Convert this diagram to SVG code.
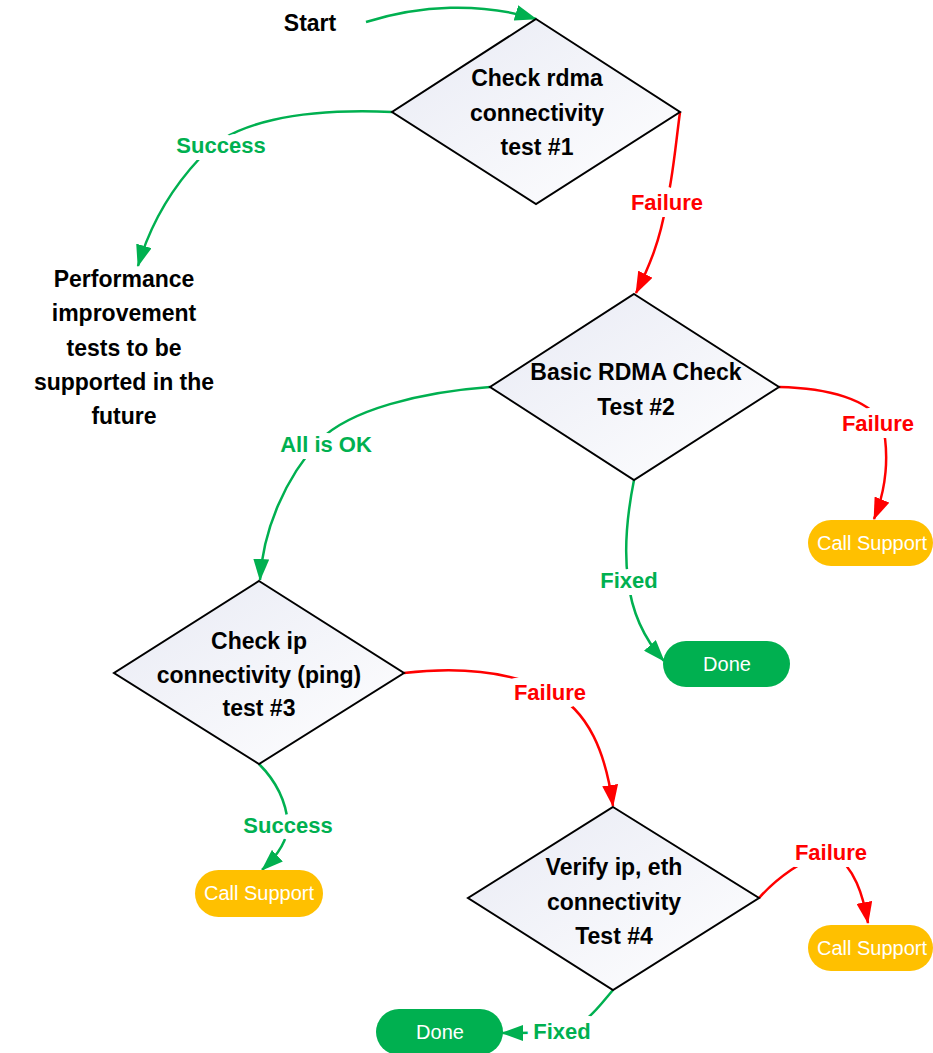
<svg xmlns="http://www.w3.org/2000/svg" width="933" height="1053" viewBox="0 0 933 1053">
<style>
.dia{stroke:#000;stroke-width:2;fill:url(#dg)}
.nt{font-family:"Liberation Sans",Arial,sans-serif;font-weight:bold;font-size:23px;fill:#000;text-anchor:middle}
.lbl{font-family:"Liberation Sans",Arial,sans-serif;font-weight:bold;font-size:22px;text-anchor:middle;stroke:#fff;stroke-width:14;paint-order:stroke;stroke-linejoin:round}
.g{fill:#00B050}
.r{fill:#FF0000}
.cg{fill:none;stroke:#00B050;stroke-width:2.5}
.cr{fill:none;stroke:#FF0000;stroke-width:2.5}
.pt{font-family:"Liberation Sans",Arial,sans-serif;font-size:20px;fill:#fff;text-anchor:middle}
</style>
<defs>
<linearGradient id="dg" x1="0" y1="0" x2="1" y2="1">
<stop offset="0" stop-color="#E8EAF4"/>
<stop offset="1" stop-color="#FFFFFF"/>
</linearGradient>
<marker id="ag" viewBox="0 0 22 16" refX="21" refY="8" markerWidth="22" markerHeight="16" markerUnits="userSpaceOnUse" orient="auto">
<path d="M0,0 L22,8 L0,16 z" fill="#00B050"/>
</marker>
<marker id="ar" viewBox="0 0 22 16" refX="21" refY="8" markerWidth="22" markerHeight="16" markerUnits="userSpaceOnUse" orient="auto">
<path d="M0,0 L22,8 L0,16 z" fill="#FF0000"/>
</marker>
</defs>

<g id="connectors">
<path class="cg" d="M366,22 C420,5 480,2 536,19" marker-end="url(#ag)"/>
<path class="cg" d="M392,112 C300,108 230,122 200,158 C170,190 150,225 138,266" marker-end="url(#ag)"/>
<path class="cr" d="M680,112 C675,150 672,185 666,205 C660,240 650,265 636,293" marker-end="url(#ar)"/>
<path class="cg" d="M490,387 C420,392 350,410 320,440 C285,478 263,530 260,580" marker-end="url(#ag)"/>
<path class="cr" d="M779,387 C830,388 868,400 882,422 C890,455 886,490 874,519" marker-end="url(#ar)"/>
<path class="cg" d="M634,480 C627,515 624,550 628,580 C632,615 645,640 664,661" marker-end="url(#ag)"/>
<path class="cr" d="M404,673 C455,667 505,670 548,690 C590,710 606,755 613,806" marker-end="url(#ar)"/>
<path class="cg" d="M259,764 C275,780 286,800 288,824 C288,842 276,857 262,870" marker-end="url(#ag)"/>
<path class="cr" d="M759,898 C775,880 805,856 832,852 C855,868 863,895 868,923" marker-end="url(#ar)"/>
<path class="cg" d="M613,990 C600,1005 585,1028 560,1031 C540,1033 520,1033 502,1033" marker-end="url(#ag)"/>
</g>

<g id="labels">
<text class="lbl g" x="221" y="153">Success</text>
<text class="lbl r" x="667" y="210">Failure</text>
<text class="lbl g" x="326" y="452">All is OK</text>
<text class="lbl r" x="878" y="431">Failure</text>
<text class="lbl g" x="629" y="588">Fixed</text>
<text class="lbl r" x="550" y="700">Failure</text>
<text class="lbl g" x="288" y="833">Success</text>
<text class="lbl r" x="831" y="860">Failure</text>
<text class="lbl g" x="562" y="1039">Fixed</text>
</g>

<g id="start">
<text class="nt" x="310" y="31">Start</text>
</g>

<g id="test1">
<polygon class="dia" points="536,19 680,112 536,204 392,112"/>
<text class="nt" x="537" y="86">Check rdma</text>
<text class="nt" x="537" y="121">connectivity</text>
<text class="nt" x="537" y="155">test #1</text>
</g>

<g id="perf">
<text class="nt" x="124" y="287">Performance</text>
<text class="nt" x="124" y="321">improvement</text>
<text class="nt" x="124" y="356">tests to be</text>
<text class="nt" x="124" y="390">supported in the</text>
<text class="nt" x="124" y="424">future</text>
</g>

<g id="test2">
<polygon class="dia" points="634,294 779,387 634,480 490,387"/>
<text class="nt" x="636" y="380">Basic RDMA Check</text>
<text class="nt" x="636" y="415">Test #2</text>
</g>

<g id="support1">
<rect x="808" y="520" width="125" height="46" rx="23" fill="#FFC000"/>
<text class="pt" x="872" y="550">Call Support</text>
</g>

<g id="done1">
<rect x="663" y="641" width="127" height="46" rx="23" fill="#00B050"/>
<text class="pt" x="727" y="671">Done</text>
</g>

<g id="test3">
<polygon class="dia" points="259,581 404,673 259,764 114,673"/>
<text class="nt" x="259" y="649">Check ip</text>
<text class="nt" x="259" y="683">connectivity (ping)</text>
<text class="nt" x="259" y="716">test #3</text>
</g>

<g id="support2">
<rect x="195" y="870" width="128" height="47" rx="23.5" fill="#FFC000"/>
<text class="pt" x="259" y="900">Call Support</text>
</g>

<g id="test4">
<polygon class="dia" points="613,807 759,898 613,990 468,898"/>
<text class="nt" x="614" y="875">Verify ip, eth</text>
<text class="nt" x="614" y="910">connectivity</text>
<text class="nt" x="614" y="944">Test #4</text>
</g>

<g id="support3">
<rect x="808" y="925" width="125" height="46" rx="23" fill="#FFC000"/>
<text class="pt" x="872" y="955">Call Support</text>
</g>

<g id="done2">
<rect x="376" y="1009" width="127" height="46" rx="23" fill="#00B050"/>
<text class="pt" x="440" y="1039">Done</text>
</g>
</svg>
